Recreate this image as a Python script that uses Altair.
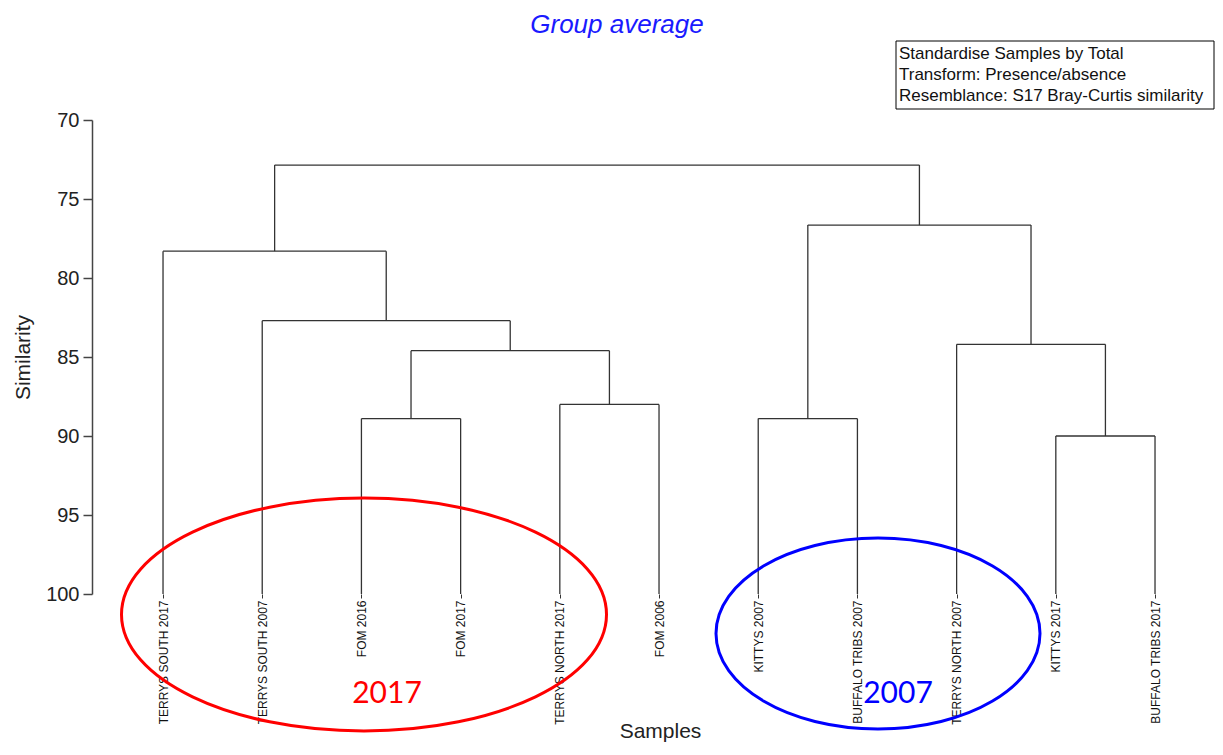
import json
import altair as alt
import pandas as pd

# ---- data -------------------------------------------------------------
leaves = [
    "TERRYS SOUTH 2017", "TERRYS SOUTH 2007", "FOM 2016", "FOM 2017",
    "TERRYS NORTH 2017", "FOM 2006", "KITTYS 2007", "BUFFALO TRIBS 2007",
    "TERRYS NORTH 2007", "KITTYS 2017", "BUFFALO TRIBS 2017",
]
# merges: node ids 11.. are created in this order
merge_left = [2, 4, 9, 6, 8, 11, 1, 0, 14, 18]
merge_right = [3, 5, 10, 7, 13, 12, 16, 17, 15, 19]
merge_sim = [88.9, 88.0, 90.0, 88.9, 84.2, 84.6, 82.7, 78.3, 76.65, 72.85]
y_ticks = [70, 75, 80, 85, 90, 95, 100]

legend_lines = [
    "Standardise Samples by Total",
    "Transform: Presence/absence",
    "Resemblance: S17 Bray-Curtis similarity",
]

# ---- dendrogram segments ---------------------------------------------
pos = {i: float(i) for i in range(len(leaves))}
hgt = {i: 100.0 for i in range(len(leaves))}
segs = []
for k, (a, b, s) in enumerate(zip(merge_left, merge_right, merge_sim)):
    nid = len(leaves) + k
    segs.append(dict(x=pos[a], x2=pos[a], y=hgt[a], y2=s))
    segs.append(dict(x=pos[b], x2=pos[b], y=hgt[b], y2=s))
    segs.append(dict(x=pos[a], x2=pos[b], y=s, y2=s))
    pos[nid] = (pos[a] + pos[b]) / 2
    hgt[nid] = s
seg_df = pd.DataFrame(segs)

W, H = 1115, 474
FONT = "Liberation Sans, Arial, sans-serif"

label_expr = json.dumps(leaves) + "[datum.value]"

tree = alt.Chart(seg_df).mark_rule(color="#333333", strokeWidth=1.3).encode(
    x=alt.X(
        "x:Q",
        scale=alt.Scale(domain=[-0.716, 10.524], nice=False, zero=False),
        axis=alt.Axis(
            values=list(range(len(leaves))),
            labelExpr=label_expr,
            labelAngle=270,
            labelAlign="right",
            labelBaseline="middle",
            labelFont=FONT,
            labelFontSize=12,
            labelColor="#111111",
            labelPadding=2,
            labelFlush=False,
            labelOverlap=False,
            tickSize=4,
            tickColor="#333333",
            domain=False,
            grid=False,
            title="Samples",
            titleFont=FONT,
            titleFontSize=21,
            titleFontWeight="normal",
            titleColor="#222222",
            titleX=568,
            titleY=143,
            titleAlign="center",
            titleBaseline="alphabetic",
        ),
    ),
    x2="x2:Q",
    y=alt.Y(
        "y:Q",
        scale=alt.Scale(domain=[70, 100], reverse=True, nice=False, zero=False),
        axis=alt.Axis(
            values=y_ticks,
            labelFont=FONT,
            labelFontSize=20,
            labelColor="#222222",
            labelPadding=4,
            labelFlush=False,
            labelOverlap=False,
            tickSize=9,
            tickColor="#444444",
            tickWidth=1.5,
            domainColor="#444444",
            domainWidth=1.5,
            grid=False,
            title="Similarity",
            titleFont=FONT,
            titleFontSize=21,
            titleFontWeight="normal",
            titleColor="#222222",
            titleAngle=270,
            titleX=-63,
            titleY=237,
            titleAlign="center",
            titleBaseline="alphabetic",
        ),
    ),
    y2="y2:Q",
)

# ---- annotations ------------------------------------------------------
title = alt.Chart(pd.DataFrame({"t": ["Group average"]})).mark_text(
    font=FONT, fontSize=26, fontStyle="italic", color="#1a1aff",
    align="center", baseline="alphabetic",
).encode(text="t:N", x=alt.value(525), y=alt.value(-87))

box = alt.Chart(pd.DataFrame({"a": [0]})).mark_rect(
    fill="white", stroke="black", strokeWidth=1,
).encode(x=alt.value(804), x2=alt.value(1122), y=alt.value(-79), y2=alt.value(-11))

legend_df = pd.DataFrame({"t": legend_lines, "i": list(range(len(legend_lines)))})
legend_txt = alt.Chart(legend_df).mark_text(
    font=FONT, fontSize=17, color="#111111", align="left", baseline="alphabetic",
).encode(
    text="t:N",
    x=alt.value(807),
    y=alt.Y("i:Q", scale=alt.Scale(domain=[0, 2], range=[-61, -19]), axis=None),
)


def ellipse_path(ratio):
    k = 0.5523
    r = ratio
    return (
        f"M -1 0 C -1 {-k*r:.4f} {-k:.4f} {-r:.4f} 0 {-r:.4f} "
        f"C {k:.4f} {-r:.4f} 1 {-k*r:.4f} 1 0 "
        f"C 1 {k*r:.4f} {k:.4f} {r:.4f} 0 {r:.4f} "
        f"C {-k:.4f} {r:.4f} -1 {k*r:.4f} -1 0 Z"
    )


red_ell = alt.Chart(pd.DataFrame({"a": [0]})).mark_point(
    shape=ellipse_path(116.5 / 242.5), size=485 ** 2, filled=False,
    stroke="#ff0000", strokeWidth=3, opacity=1,
).encode(x=alt.value(272), y=alt.value(494.5))

blue_ell = alt.Chart(pd.DataFrame({"a": [0]})).mark_point(
    shape=ellipse_path(95.5 / 162), size=324 ** 2, filled=False,
    stroke="#0000ff", strokeWidth=3, opacity=1,
).encode(x=alt.value(786), y=alt.value(513.5))

yr_font = "Lato, Carlito, sans-serif"
txt2017 = alt.Chart(pd.DataFrame({"t": ["2017"]})).mark_text(
    font=yr_font, fontSize=30, color="#ff0000", align="center", baseline="alphabetic",
).encode(text="t:N", x=alt.value(295), y=alt.value(583))
txt2007 = alt.Chart(pd.DataFrame({"t": ["2007"]})).mark_text(
    font=yr_font, fontSize=30, color="#0000ff", align="center", baseline="alphabetic",
).encode(text="t:N", x=alt.value(806), y=alt.value(583))

chart = alt.layer(
    tree, red_ell, blue_ell, txt2017, txt2007, title, box, legend_txt
).resolve_scale(y="independent").properties(
    width=W,
    height=H,
    autosize=alt.AutoSizeParams(type="none"),
    padding={"left": 84, "top": 112, "right": 8, "bottom": 149},
    background="white",
).configure_view(stroke=None)

chart.save("out.html", embed_options={"renderer": "svg", "actions": False})
